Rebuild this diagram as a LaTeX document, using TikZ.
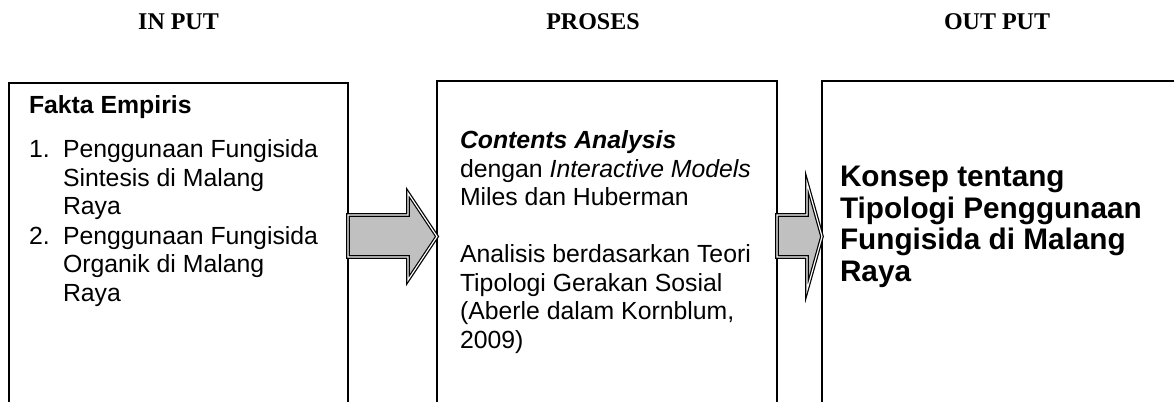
\documentclass[tikz,border=0pt]{standalone}
\usepackage{fontspec}
\usetikzlibrary{calc}
\setmainfont{Liberation Sans}
\newfontfamily\titlefont{Liberation Serif}
\definecolor{arrowgray}{RGB}{192,192,192}
\begin{document}
\begin{tikzpicture}[x=0.75pt,y=-0.75pt,
  frame/.style={draw=black, line width=1.1pt, inner sep=0pt, outer sep=0pt, anchor=north west},
  txt/.style={anchor=base west, inner sep=0pt, outer sep=0pt, font=\fontsize{18.6}{21}\selectfont},
  boldtxt/.style={anchor=base west, inner sep=0pt, outer sep=0pt, font=\fontsize{18.6}{21}\selectfont\bfseries},
  bigtxt/.style={anchor=base west, inner sep=0pt, outer sep=0pt, font=\fontsize{22.3}{24}\selectfont\bfseries},
  ttl/.style={anchor=base, inner sep=0pt, outer sep=0pt, font=\titlefont\fontsize{18}{20}\selectfont\bfseries},
  blockarrow/.style={draw=black, line width=0.9pt, double=white, double distance=0.9pt, fill=arrowgray, line join=miter}]
\useasboundingbox (0,0) rectangle (1174,402);
\clip (0,0) rectangle (1174,402);

% titles
\node[ttl] (t1) at (178.5,30) {IN PUT};
\node[ttl] (t2) at (593,30) {PROSES};
\node[ttl] (t3) at (997,30) {OUT PUT};

% boxes (bottoms run off the page)
\node[frame, minimum width=254.25pt, minimum height=253.5pt] (b1) at (9,83) {};
\node[frame, minimum width=255pt, minimum height=254.25pt] (b2) at (437,81) {};
\node[frame, minimum width=283.5pt, minimum height=254.25pt] (b3) at (822,81) {};

% box 1 text
\node[boldtxt] (h1) at (29,114) {Fakta Empiris};
\node[txt] (n1) at (29,158) {1.};
\node[txt] (l11) at (63,158) {Penggunaan Fungisida};
\node[txt] (l12) at (63,186.5) {Sintesis di Malang};
\node[txt] (l13) at (63,215) {Raya};
\node[txt] (n2) at (29,244.5) {2.};
\node[txt] (l21) at (63,244.5) {Penggunaan Fungisida};
\node[txt] (l22) at (63,273) {Organik di Malang};
\node[txt] (l23) at (63,301.5) {Raya};

% box 2 text
\node[boldtxt, font=\fontsize{18.6}{21}\selectfont\bfseries\itshape] (p1) at (460,149) {Contents Analysis};
\node[txt] (p2) at (460,177.5) {dengan \textit{Interactive Models}};
\node[txt] (p3) at (460,206) {Miles dan Huberman};
\node[txt] (p4) at (460,263) {Analisis berdasarkan Teori};
\node[txt] (p5) at (460,291.5) {Tipologi Gerakan Sosial};
\node[txt] (p6) at (460,320) {(Aberle dalam Kornblum,};
\node[txt] (p7) at (460,348.5) {2009)};

% box 3 text
\node[bigtxt] (o1) at (840,187) {Konsep tentang};
\node[bigtxt] (o2) at (840,218.5) {Tipologi Penggunaan};
\node[bigtxt] (o3) at (840,250) {Fungisida di Malang};
\node[bigtxt] (o4) at (840,281.5) {Raya};

% block arrows between boxes
\path[blockarrow] (b1.north east) ++(0,132) -- ++(60,0) -- ++(0,-22) -- (b2.north west |- 0,236.5)
  -- (408,280) -- ++(0,-23) -- ($(b1.north east)+(0,174)$) -- cycle;
\path[blockarrow] (b2.north east) ++(0,134) -- ++(30,0) -- ++(0,-32) -- (b3.north west |- 0,236.5)
  -- (807,290) -- ++(0,-33) -- ($(b2.north east)+(0,176)$) -- cycle;
\end{tikzpicture}
\end{document}
